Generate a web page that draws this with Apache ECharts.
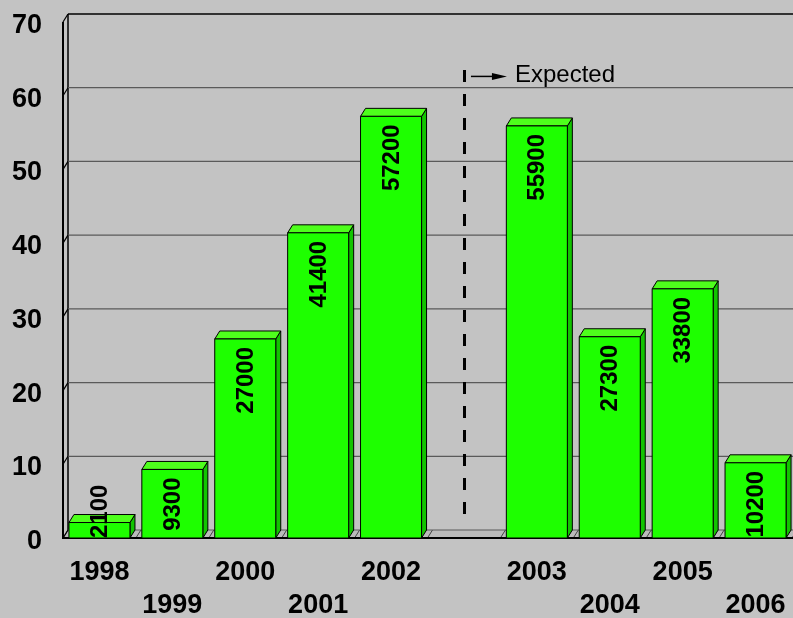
<!DOCTYPE html>
<html>
<head>
<meta charset="utf-8">
<script src="https://cdn.jsdelivr.net/npm/echarts@6/dist/echarts.min.js"></script>
<style>
  html, body { margin: 0; padding: 0; background: #c3c3c3; }
  #chart { width: 793px; height: 618px; }
</style>
</head>
<body>
<div id="chart"></div>
<script>
// ---- data ----
const categories = ['1998', '1999', '2000', '2001', '2002', '', '2003', '2004', '2005', '2006'];
const values = [2.1, 9.3, 27.0, 41.4, 57.2, null, 55.9, 27.3, 33.8, 10.2];
const valueLabels = ['2100', '9300', '27000', '41400', '57200', '', '55900', '27300', '33800', '10200'];
const yTicks = [0, 10, 20, 30, 40, 50, 60, 70];
const dividerIndex = 5;
const dividerRange = [2.85, 63.5];
const annotationText = 'Expected';

// ---- style ----
const FONT = '"Liberation Sans", Arial, Helvetica, sans-serif';
const DX = 5, DY = 8;
const FRONT = '#1eff00', TOP = '#4eff1c', SIDE = '#12c400';
const BG = '#c3c3c3';

const measureCanvas = document.createElement('canvas').getContext('2d');
function textWidth(t, font) { measureCanvas.font = font; return measureCanvas.measureText(t).width; }
const LABEL_FONT = 'bold 24px ' + FONT;

function renderFrame(params, api) {
  const cs = params.coordSys;
  const left = cs.x, right = cs.x + cs.width;
  const t = api.value(1);
  const p = api.coord([0, t]);
  const y = p[1];
  const children = [];
  if (t === 0) {
    const band = api.size([1, 0])[0];
    children.push({ type: 'polygon', shape: { points: [[left, y], [left + DX, y - DY], [right + DX, y - DY], [right + DX, y], [left, y]] },
      style: { fill: '#bababa', stroke: null } });
    for (let i = 0; i <= categories.length; i++) {
      const bx = left + i * band;
      children.push({ type: 'line', shape: { x1: bx, y1: y, x2: bx + DX, y2: y - DY }, style: { stroke: '#444', lineWidth: 1 } });
    }
    const yTop = api.coord([0, yTicks[yTicks.length - 1]])[1];
    children.push({ type: 'line', shape: { x1: left + DX, y1: y - DY, x2: left + DX, y2: yTop - DY }, style: { stroke: '#000', lineWidth: 1.5 } });
    children.push({ type: 'line', shape: { x1: left, y1: y, x2: left, y2: yTop }, style: { stroke: '#000', lineWidth: 2 } });
  }
  const isTop = t === yTicks[yTicks.length - 1];
  children.push({ type: 'line', shape: { x1: left + DX, y1: y - DY, x2: right + DX, y2: y - DY },
    style: { stroke: isTop ? '#000' : '#5a5a5a', lineWidth: isTop ? 1.5 : 1.2 } });
  children.push({ type: 'line', shape: { x1: left, y1: y, x2: left + DX, y2: y - DY }, style: { stroke: '#000', lineWidth: 1.2 } });
  if (t === 0) {
    children.push({ type: 'line', shape: { x1: left - 1, y1: y, x2: right + DX, y2: y }, style: { stroke: '#000', lineWidth: 2 } });
  }
  return { type: 'group', children };
}

function renderBar(params, api) {
  const v = api.value(1);
  if (v == null || isNaN(v)) return null;
  const idx = api.value(0);
  const base = api.coord([idx, 0]);
  const top = api.coord([idx, v]);
  const band = api.size([1, 0])[0];
  const w = band * 0.837;
  const x0 = top[0] - w / 2, x1 = top[0] + w / 2;
  const yT = top[1], yB = base[1];
  const label = valueLabels[idx];
  const len = textWidth(label, LABEL_FONT);
  const labelTop = Math.min(yT + 8, yB - len);
  return {
    type: 'group',
    children: [
      { type: 'polygon', shape: { points: [[x1, yB], [x1 + DX, yB - DY], [x1 + DX, yT - DY], [x1, yT]] },
        style: { fill: SIDE, stroke: '#000', lineWidth: 1 } },
      { type: 'polygon', shape: { points: [[x0, yT], [x0 + DX, yT - DY], [x1 + DX, yT - DY], [x1, yT]] },
        style: { fill: TOP, stroke: '#000', lineWidth: 1 } },
      { type: 'rect', shape: { x: x0, y: yT, width: w, height: yB - yT },
        style: { fill: FRONT, stroke: '#000', lineWidth: 1 } },
      { type: 'text', x: top[0] + 1, y: labelTop, rotation: Math.PI / 2,
        style: { text: label, font: LABEL_FONT, fill: '#000', align: 'right', verticalAlign: 'middle' } }
    ]
  };
}

const chart = echarts.init(document.getElementById('chart'), null, { renderer: 'canvas' });
chart.setOption({
  backgroundColor: BG,
  animation: false,
  grid: { left: 63, right: 1, top: 22, bottom: 80, containLabel: false, outerBoundsMode: 'none' },
  xAxis: {
    type: 'category',
    data: categories,
    axisLine: { show: false },
    axisTick: { show: false },
    splitLine: { show: false },
    axisLabel: {
      interval: 0,
      margin: 18,
      color: '#000',
      fontFamily: FONT,
      fontWeight: 'bold',
      fontSize: 27,
      lineHeight: 33,
      formatter: function (v, i) { return i % 2 === 1 ? '\n' + v : v; }
    }
  },
  yAxis: {
    type: 'value',
    min: 0, max: 70, interval: 10,
    axisLine: { show: false },
    axisTick: { show: false },
    splitLine: { show: false },
    axisLabel: { color: '#000', fontFamily: FONT, fontWeight: 'bold', fontSize: 27, margin: 21,
      verticalAlign: 'top', lineHeight: 7 }
  },
  series: [
    {
      type: 'custom',
      renderItem: renderFrame,
      data: yTicks.map(t => [0, t]),
      z: 1,
      silent: true,
      markLine: {
        silent: true,
        symbol: ['none', 'none'],
        label: { show: false },
        lineStyle: { color: '#000', width: 3, type: [12, 12] },
        data: [[{ coord: [dividerIndex, dividerRange[1]] }, { coord: [dividerIndex, dividerRange[0]] }]]
      }
    },
    {
      type: 'custom',
      renderItem: renderBar,
      data: values.map((v, i) => [i, v]),
      z: 3
    }
  ]
});

const anchor = chart.convertToPixel({ xAxisIndex: 0, yAxisIndex: 0 }, [dividerIndex, dividerRange[1]]);
const ax = anchor[0], ay = anchor[1] + 6.5;
chart.setOption({
  graphic: [
    { type: 'line', shape: { x1: ax + 7, y1: ay, x2: ax + 30, y2: ay }, style: { stroke: '#000', lineWidth: 1.5 } },
    { type: 'polygon', shape: { points: [[ax + 28, ay - 3.5], [ax + 43, ay], [ax + 28, ay + 3.5]] }, style: { fill: '#000' } },
    { type: 'text', x: ax + 51, y: ay - 1, style: { text: annotationText, font: '24px ' + FONT, fill: '#000', align: 'left', verticalAlign: 'middle' } }
  ]
});
</script>
</body>
</html>
